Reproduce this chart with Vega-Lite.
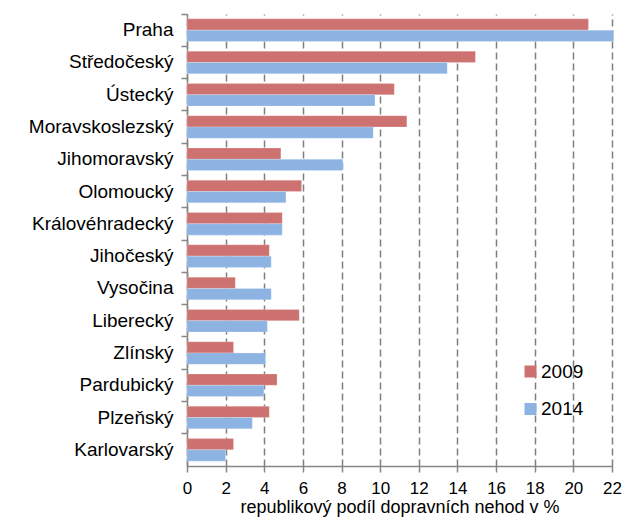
{
  "$schema": "https://vega.github.io/schema/vega-lite/v6.json",
  "width": 425,
  "height": 452,
  "autosize": "none",
  "padding": {"left": 187, "top": 14, "right": 14, "bottom": 59},
  "background": "white",
  "config": {"view": {"stroke": null}, "font": "Liberation Sans"},
  "data": {
    "values": [
      {"region": "Praha", "year": "2009", "value": 20.78},
      {"region": "Praha", "year": "2014", "value": 22.09},
      {"region": "Středočeský", "year": "2009", "value": 14.93},
      {"region": "Středočeský", "year": "2014", "value": 13.47},
      {"region": "Ústecký", "year": "2009", "value": 10.73},
      {"region": "Ústecký", "year": "2014", "value": 9.73},
      {"region": "Moravskoslezský", "year": "2009", "value": 11.38},
      {"region": "Moravskoslezský", "year": "2014", "value": 9.64},
      {"region": "Jihomoravský", "year": "2009", "value": 4.86},
      {"region": "Jihomoravský", "year": "2014", "value": 8.07},
      {"region": "Olomoucký", "year": "2009", "value": 5.93},
      {"region": "Olomoucký", "year": "2014", "value": 5.12},
      {"region": "Královéhradecký", "year": "2009", "value": 4.93},
      {"region": "Královéhradecký", "year": "2014", "value": 4.93},
      {"region": "Jihočeský", "year": "2009", "value": 4.26},
      {"region": "Jihočeský", "year": "2014", "value": 4.36},
      {"region": "Vysočina", "year": "2009", "value": 2.5},
      {"region": "Vysočina", "year": "2014", "value": 4.36},
      {"region": "Liberecký", "year": "2009", "value": 5.81},
      {"region": "Liberecký", "year": "2014", "value": 4.16},
      {"region": "Zlínský", "year": "2009", "value": 2.41},
      {"region": "Zlínský", "year": "2014", "value": 4.07},
      {"region": "Pardubický", "year": "2009", "value": 4.66},
      {"region": "Pardubický", "year": "2014", "value": 3.98},
      {"region": "Plzeňský", "year": "2009", "value": 4.26},
      {"region": "Plzeňský", "year": "2014", "value": 3.38},
      {"region": "Karlovarský", "year": "2009", "value": 2.41},
      {"region": "Karlovarský", "year": "2014", "value": 2.0}
    ]
  },
  "mark": {"type": "bar", "stroke": "white", "strokeOpacity": 0.35, "strokeWidth": 0.6},
  "encoding": {
    "y": {
      "field": "region",
      "type": "nominal",
      "sort": ["Praha", "Středočeský", "Ústecký", "Moravskoslezský", "Jihomoravský", "Olomoucký", "Královéhradecký", "Jihočeský", "Vysočina", "Liberecký", "Zlínský", "Pardubický", "Plzeňský", "Karlovarský"],
      "scale": {"paddingInner": 0, "paddingOuter": 0},
      "axis": {
        "title": null,
        "bandPosition": 0,
        "domainColor": "#868686",
        "domainWidth": 1.5,
        "tickColor": "#868686",
        "tickWidth": 1.5,
        "tickSize": 6,
        "labelFont": "Liberation Sans",
        "labelFontSize": 19,
        "labelColor": "#000000",
        "labelPadding": 8,
        "grid": false
      }
    },
    "yOffset": {
      "field": "year",
      "type": "nominal",
      "sort": ["2009", "2014"],
      "scale": {"paddingInner": 0, "paddingOuter": 0.43}
    },
    "x": {
      "field": "value",
      "type": "quantitative",
      "scale": {"domain": [0, 22], "nice": false},
      "axis": {
        "title": "republikový podíl dopravních nehod v %",
        "titleFont": "Liberation Sans",
        "titleFontSize": 18,
        "titleFontWeight": "normal",
        "titleColor": "#000000",
        "titlePadding": 2,
        "values": [0, 2, 4, 6, 8, 10, 12, 14, 16, 18, 20, 22],
        "labelFont": "Liberation Sans",
        "labelFontSize": 17,
        "labelColor": "#000000",
        "labelPadding": 8,
        "labelFlush": false,
        "domainColor": "#868686",
        "domainWidth": 1.5,
        "tickColor": "#868686",
        "tickWidth": 1.5,
        "tickSize": 6,
        "grid": true,
        "gridColor": "#7f7f7f",
        "gridWidth": 1.5,
        "gridDash": [7, 4]
      }
    },
    "color": {
      "field": "year",
      "type": "nominal",
      "scale": {"domain": ["2009", "2014"], "range": ["#CD7270", "#8DB3E2"]},
      "legend": {
        "title": null,
        "orient": "none",
        "legendX": 334,
        "legendY": 348,
        "symbolType": "square",
        "symbolSize": 144,
        "symbolStrokeWidth": 0,
        "symbolOpacity": 1,
        "labelFont": "Liberation Sans",
        "labelFontSize": 19,
        "labelColor": "#000000",
        "labelOffset": 1,
        "rowPadding": 17.5
      }
    }
  }
}
